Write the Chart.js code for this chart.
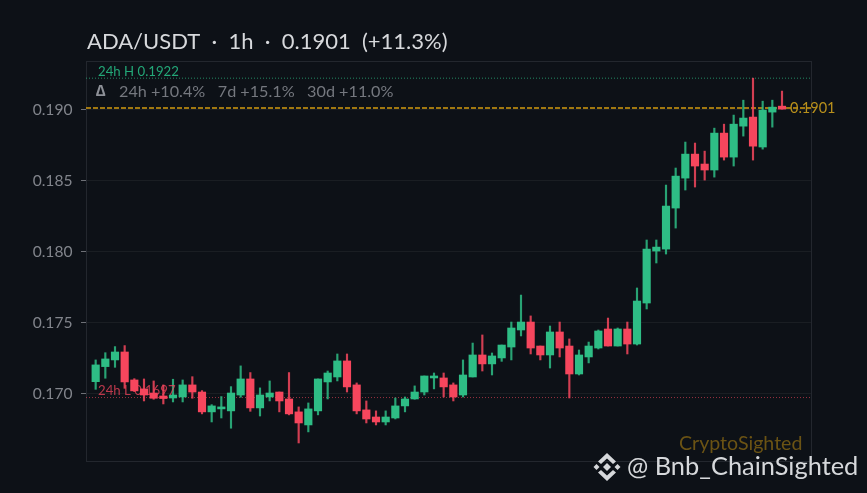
<!DOCTYPE html>
<html>
<head>
<meta charset="utf-8">
<style>
  html, body { margin: 0; padding: 0; background: #0d1117; overflow: hidden; }
  canvas { display: block; }
</style>
<script src="https://cdn.jsdelivr.net/npm/chart.js@4/dist/chart.umd.min.js"></script>
</head>
<body>
<canvas id="grafico" width="867" height="493"></canvas>
<script>
// candles, oldest first, 1h each
const opens = [.17082,.17188,.17235,.17291,.17094,.17031,.17002,.16981,.16967,.16974,.17059,.17009,.16869,.16890,.16876,.16988,.17101,.16897,.16974,.17009,.16960,.16869,.16777,.16876,
  .17080,.17115,.17228,.17059,.16883,.16833,.16798,.16826,.16911,.16960,.17009,.17108,.17108,.17059,.16988,.17115,.17270,.17207,.17249,.17326,.17446,.17502,.17333,.17270,
  .17432,.17333,.17136,.17256,.17319,.17453,.17333,.17453,.17347,.17636,.18002,.18016,.18305,.18516,.18685,.18615,.18573,.18833,.18664,.18882,.18946,.18735,.18981,.19023];
const closes = [.17200,.17242,.17291,.17080,.17017,.16988,.16965,.16963,.16988,.17059,.17009,.16869,.16911,.16904,.17002,.17101,.16897,.16988,.17002,.16946,.16855,.16791,.16890,.17101,
  .17143,.17228,.17045,.16876,.16819,.16798,.16833,.16911,.16960,.17009,.17122,.17122,.17045,.16974,.17129,.17270,.17207,.17263,.17340,.17460,.17502,.17319,.17270,.17432,
  .17319,.17136,.17270,.17333,.17439,.17333,.17453,.17347,.17650,.18016,.18030,.18319,.18530,.18685,.18601,.18573,.18833,.18664,.18896,.18939,.18741,.18995,.19016,.19002];
const highs = [.17235,.17286,.17329,.17336,.17103,.17101,.17087,.17059,.17099,.17094,.17117,.17019,.16920,.16977,.17047,.17193,.17146,.17038,.17087,.17009,.17146,.16904,.16932,.17101,
  .17157,.17277,.17277,.17073,.16946,.16876,.16876,.16967,.16974,.17052,.17122,.17143,.17143,.17073,.17235,.17354,.17411,.17284,.17340,.17502,.17692,.17545,.17333,.17474,
  .17502,.17383,.17305,.17361,.17446,.17530,.17460,.17502,.17742,.18080,.18080,.18467,.18587,.18770,.18763,.18706,.18868,.18896,.18960,.19065,.19220,.19058,.19065,.19129];
const lows = [.17028,.17106,.17183,.17035,.17012,.16946,.16958,.16925,.16939,.16939,.16965,.16855,.16798,.16826,.16754,.16972,.16873,.16840,.16946,.16869,.16848,.16650,.16728,.16848,
  .16960,.17087,.17009,.16855,.16791,.16777,.16777,.16819,.16869,.16958,.16988,.17031,.16974,.16946,.16974,.17115,.17157,.17129,.17225,.17235,.17404,.17277,.17235,.17178,
  .17256,.16967,.17129,.17214,.17312,.17333,.17333,.17277,.17340,.17594,.17918,.17981,.18164,.18432,.18453,.18502,.18523,.18643,.18601,.18812,.18643,.18720,.18875,.19002];

const yTicks = [0.170, 0.175, 0.180, 0.185, 0.190];
const yMin = 0.16523, yMax = 0.19341;
const high24 = 0.1922, low24 = 0.1697, lastPrice = 0.1901;

const titulo = 'ADA/USDT  ·  1h  ·  0.1901  (+11.3%)';
const variacao = '24h +10.4%   7d +15.1%   30d +11.0%';

const verde = '#2ebd85', vermelho = '#f6465d', dourado = '#d29a0f';
const fonte = 'Lato, "Noto Sans", sans-serif';

const xs = opens.map((_, i) => i);
const cores = opens.map((o, i) => closes[i] >= o ? verde : vermelho);
const coresPavio = opens.map((o, i) => closes[i] >= o ? 'rgba(46,189,133,0.85)' : 'rgba(246,70,93,0.85)');

// linha horizontal de ponta a ponta do eixo x
function linha(valor, cor, dash, largura) {
  return {
    type: 'line',
    data: [{ x: -1, y: valor }, { x: 74, y: valor }],
    borderColor: cor,
    borderWidth: largura,
    borderDash: dash,
    pointRadius: 0,
    order: 3
  };
}

function texto(ctx, str, x, y, cor, tam, peso) {
  ctx.fillStyle = cor;
  ctx.font = (peso || 'normal') + ' ' + tam + 'px ' + fonte;
  ctx.textAlign = 'left';
  ctx.textBaseline = 'middle';
  ctx.fillText(str, x, y);
}

function losango(ctx, cx, cy, r) {
  ctx.beginPath();
  ctx.moveTo(cx, cy - r);
  ctx.lineTo(cx + r, cy);
  ctx.lineTo(cx, cy + r);
  ctx.lineTo(cx - r, cy);
  ctx.closePath();
  ctx.fill();
}

// logo do watermark
function logo(ctx, cx, cy) {
  ctx.fillStyle = '#d6d8db';
  losango(ctx, cx, cy, 4);
  losango(ctx, cx - 10.5, cy, 3);
  losango(ctx, cx + 10.5, cy, 3);
  [-1, 1].forEach(s => {
    ctx.beginPath();
    ctx.moveTo(cx, cy + s * 14);
    ctx.lineTo(cx + 9, cy + s * 5.5);
    ctx.lineTo(cx + 6, cy + s * 3);
    ctx.lineTo(cx, cy + s * 8.5);
    ctx.lineTo(cx - 6, cy + s * 3);
    ctx.lineTo(cx - 9, cy + s * 5.5);
    ctx.closePath();
    ctx.fill();
  });
}

const textos = {
  id: 'textos',
  afterDraw(chart) {
    const ctx = chart.ctx, y = chart.scales.y;
    ctx.save();
    texto(ctx, titulo, 87, 41.5, '#d7d9dc', 22);
    texto(ctx, '24h H ' + high24, 98, y.getPixelForValue(high24) - 6.5, '#23a878', 13.2);
    texto(ctx, '24h L ' + low24, 98, y.getPixelForValue(low24) - 7, 'rgba(246,70,93,0.75)', 13.2);
    texto(ctx, '∆', 96, 91, '#8d9097', 16, 'bold');
    texto(ctx, variacao, 119, 91.5, '#75787f', 16.2);
    texto(ctx, String(lastPrice), 790, y.getPixelForValue(lastPrice), '#b8901c', 14.5);
    texto(ctx, 'CryptoSighted', 679, 444, '#6b5314', 19.6);
    logo(ctx, 607, 467);
    texto(ctx, '@ Bnb_ChainSighted', 627, 467, '#d6d8db', 25.4);
    ctx.restore();
  }
};

new Chart(document.getElementById('grafico'), {
  data: {
    datasets: [
      linha(high24, 'rgba(46,189,133,0.7)', [1, 2], 1),
      linha(low24, 'rgba(246,70,93,0.6)', [1, 2], 1),
      linha(lastPrice, dourado, [5, 2], 1.5),
      {
        type: 'bar',
        data: xs.map(i => ({ x: i, y: [lows[i], highs[i]] })),
        backgroundColor: coresPavio,
        barThickness: 1.5,
        grouped: false,
        order: 2
      },
      {
        type: 'bar',
        data: xs.map(i => ({ x: i, y: [opens[i], closes[i]] })),
        backgroundColor: cores,
        barThickness: 7.5,
        grouped: false,
        order: 1
      }
    ]
  },
  options: {
    responsive: false,
    animation: false,
    devicePixelRatio: 1,
    layout: { padding: { top: 61, right: 56, left: 0, bottom: 0 } },
    plugins: { legend: { display: false }, title: { display: false }, tooltip: { enabled: false } },
    scales: {
      x: {
        type: 'linear',
        min: -1,
        max: 74,
        offset: false,
        grid: { display: false, drawTicks: false },
        border: { display: true, color: '#23272e', width: 1 },
        ticks: { display: false },
        afterFit(scale) { scale.height = 32; }
      },
      y: {
        min: yMin,
        max: yMax,
        afterBuildTicks(scale) { scale.ticks = yTicks.map(v => ({ value: v })); },
        grid: { color: 'rgba(255,255,255,0.055)', lineWidth: 1, tickColor: '#6d7076', tickLength: 5 },
        border: { display: true, color: '#23272e', width: 1 },
        ticks: {
          color: '#82858c',
          font: { family: fonte, size: 15.6 },
          padding: 8.5,
          labelOffset: 1,
          callback: v => v.toFixed(3)
        },
        afterFit(scale) { scale.width = 86; }
      }
    }
  },
  plugins: [
    {
      // moldura do topo e da direita
      id: 'moldura',
      beforeDatasetsDraw(chart) {
        const { ctx, chartArea: a } = chart;
        ctx.save();
        ctx.strokeStyle = '#23272e';
        ctx.lineWidth = 1;
        ctx.strokeRect(a.left + 0.5, a.top + 0.5, a.right - a.left, a.bottom - a.top);
        ctx.restore();
      }
    },
    textos
  ]
});
</script>
</body>
</html>
